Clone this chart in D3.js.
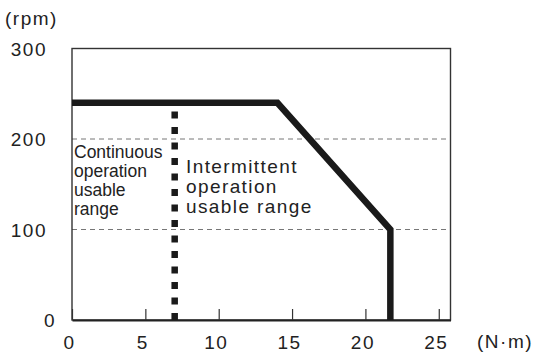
<!DOCTYPE html>
<html>
<head>
<meta charset="utf-8">
<script src="https://cdn.jsdelivr.net/npm/d3@7"></script>
<style>
  body { margin: 0; background: #fff; }
  text { font-family: "Liberation Sans", Arial, sans-serif; fill: #222; }
</style>
</head>
<body>
<div id="chart"></div>
<script>
var svgWidth = 535;
var svgHeight = 354;

// data
var xTicks = [0, 5, 10, 15, 20, 25];
var yTicks = [0, 100, 200, 300];
var gridValues = [100, 200];
// intermittent limit (torque N·m, speed rpm)
var limitTorque = [0, 14, 21.7, 21.7];
var limitSpeed = [240, 240, 100, 0];
// continuous limit (drawn bottom-up so the dots start at the axis)
var contTorque = [7, 7];
var contSpeed = [0, 240];

var contLabel = ["Continuous", "operation", "usable", "range"];
var interLabel = ["Intermittent", "operation", "usable range"];

var svg = d3.select("#chart")
  .append("svg")
  .attr("width", svgWidth)
  .attr("height", svgHeight);

var x = d3.scaleLinear().domain([0, 25.8]).range([72, 450.5]);
var y = d3.scaleLinear().domain([0, 300]).range([320, 48.5]);

// dashed grid
svg.selectAll(".grid")
  .data(gridValues)
  .enter()
  .append("line")
  .attr("x1", x(0)).attr("x2", x(25.8))
  .attr("y1", d => y(d)).attr("y2", d => y(d))
  .attr("stroke", "#777")
  .attr("stroke-width", 1)
  .attr("stroke-dasharray", "5,4");

// frame
svg.append("rect")
  .attr("x", x(0)).attr("y", y(300))
  .attr("width", x(25.8) - x(0)).attr("height", y(0) - y(300))
  .attr("fill", "none")
  .attr("stroke", "#333")
  .attr("stroke-width", 1.4);

// bottom axis with inward ticks
var bottomAxis = d3.axisBottom(x)
  .tickValues(xTicks)
  .tickSizeInner(-11)
  .tickSizeOuter(0)
  .tickPadding(18)
  .tickFormat(d3.format("d"));

var gx = svg.append("g")
  .attr("transform", `translate(0, ${y(0)})`)
  .call(bottomAxis);
gx.select(".domain").attr("stroke", "#222").attr("stroke-width", 2);
gx.selectAll(".tick line").attr("stroke", "#333").attr("stroke-width", 1.2);
gx.selectAll(".tick text")
  .attr("font-size", 19)
  .attr("letter-spacing", 1.5)
  .attr("dx", -3)
  .attr("y", 29)
  .attr("dy", 0)
  .attr("fill", "#222")
  .attr("font-family", "Liberation Sans, Arial, sans-serif");

// y labels
svg.selectAll(".ylab")
  .data(yTicks)
  .enter()
  .append("text")
  .attr("x", d => d === 0 ? 56 : 47)
  .attr("y", d => y(d) + 7)
  .attr("text-anchor", "end")
  .attr("font-size", 19)
  .attr("letter-spacing", 1.5)
  .text(d => d);

// axis units
svg.append("text")
  .attr("x", 5).attr("y", 25)
  .attr("font-size", 19)
  .attr("letter-spacing", 1.5)
  .text("(rpm)");

svg.append("text")
  .attr("x", 477).attr("y", 348)
  .attr("font-size", 19)
  .attr("letter-spacing", 1.5)
  .text("(N·m)");

var line = d3.line()
  .x(d => x(d[0]))
  .y(d => y(d[1]));

// continuous limit (dotted)
svg.append("path")
  .datum(d3.zip(contTorque, contSpeed))
  .attr("d", line)
  .attr("fill", "none")
  .attr("stroke", "#1a1a1a")
  .attr("stroke-width", 6.5)
  .attr("stroke-dasharray", "7,8.5");

// intermittent limit
svg.append("path")
  .datum(d3.zip(limitTorque, limitSpeed))
  .attr("d", line)
  .attr("fill", "none")
  .attr("stroke", "#1a1a1a")
  .attr("stroke-width", 6.5)
  .attr("stroke-linejoin", "miter");

// region labels
svg.append("g")
  .selectAll("text")
  .data(contLabel)
  .enter()
  .append("text")
  .attr("x", 74)
  .attr("y", (d, i) => 157.5 + i * 19)
  .attr("font-size", 17.5)
  .text(d => d);

svg.append("g")
  .selectAll("text")
  .data(interLabel)
  .enter()
  .append("text")
  .attr("x", 186)
  .attr("y", (d, i) => 173 + i * 20)
  .attr("font-size", 19)
  .attr("letter-spacing", 1.4)
  .text(d => d);
</script>
</body>
</html>
